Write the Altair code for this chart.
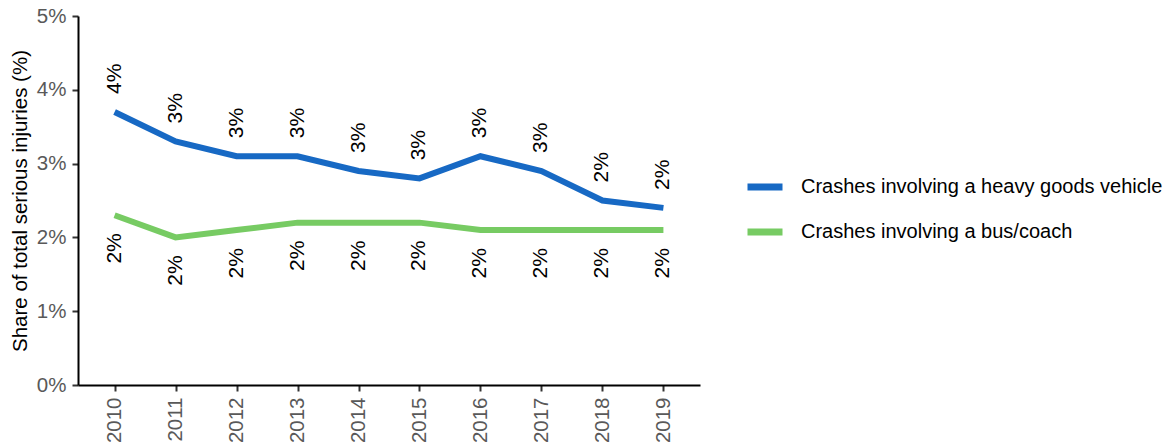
import altair as alt
import pandas as pd

years = ["2010", "2011", "2012", "2013", "2014", "2015", "2016", "2017", "2018", "2019"]
hgv = [3.7, 3.3, 3.1, 3.1, 2.9, 2.8, 3.1, 2.9, 2.5, 2.4]
bus = [2.3, 2.0, 2.1, 2.2, 2.2, 2.2, 2.1, 2.1, 2.1, 2.1]
hgv_labels = ["4%", "3%", "3%", "3%", "3%", "3%", "3%", "3%", "2%", "2%"]
bus_labels = ["2%", "2%", "2%", "2%", "2%", "2%", "2%", "2%", "2%", "2%"]
series = ["Crashes involving a heavy goods vehicle", "Crashes involving a bus/coach"]
colors = ["#1769c4", "#77cb63"]

rows = []
for i, yr in enumerate(years):
    rows.append(dict(year=yr, series=series[0], value=hgv[i], label=hgv_labels[i]))
    rows.append(dict(year=yr, series=series[1], value=bus[i], label=bus_labels[i]))
df = pd.DataFrame(rows)

FONT = "Liberation Sans"
FS = 20.5

x = alt.X(
    "year:O",
    sort=years,
    scale=alt.Scale(type="point", padding=0.6),
    axis=alt.Axis(
        title=None, labelAngle=-90, labelFontSize=FS, labelColor="#595959",
        labelPadding=6, tickSize=6, tickWidth=2, tickColor="#333333",
        domainColor="#000000", domainWidth=2, labelFont=FONT,
    ),
)
y = alt.Y(
    "value:Q",
    scale=alt.Scale(domain=[0, 5]),
    axis=alt.Axis(
        values=[0, 1, 2, 3, 4, 5], labelExpr="datum.value + '%'",
        title="Share of total serious injuries (%)", titleFontSize=FS,
        titleFontWeight="normal", titleColor="#000000", titlePadding=6,
        labelFontSize=FS, labelColor="#595959", labelPadding=6,
        tickSize=6, tickWidth=2, tickColor="#333333", grid=False,
        domainColor="#000000", domainWidth=2, labelFont=FONT, titleFont=FONT,
    ),
)
color = alt.Color(
    "series:N",
    sort=series,
    scale=alt.Scale(domain=series, range=colors),
    legend=alt.Legend(
        title=None, orient="none", legendX=666, legendY=150,
        symbolType="stroke", symbolSize=1225, symbolStrokeWidth=7,
        labelFontSize=20, labelFont=FONT, labelColor="#000000",
        labelOffset=15, rowPadding=10, padding=0, labelLimit=0,
    ),
)

base = alt.Chart(df)
lines = base.mark_line(strokeWidth=6, strokeCap="butt").encode(x=x, y=y, color=color)
top_text = base.transform_filter(alt.datum.series == series[0]).mark_text(
    angle=270, align="left", baseline="middle", dx=18, fontSize=21, font=FONT, color="#000000"
).encode(x=x, y=y, text="label:N")
bot_text = base.transform_filter(alt.datum.series == series[1]).mark_text(
    angle=270, align="right", baseline="middle", dx=-18, fontSize=21, font=FONT, color="#000000"
).encode(x=x, y=y, text="label:N")

chart = (
    alt.layer(lines, top_text, bot_text)
    .properties(
        width=622, height=369,
        autosize=alt.AutoSizeParams(type="none"),
        padding={"left": 70, "top": 8, "right": 466, "bottom": 58},
    )
    .configure_view(stroke=None)
)

chart.save("out.html", embed_options={"renderer": "svg", "actions": False})
